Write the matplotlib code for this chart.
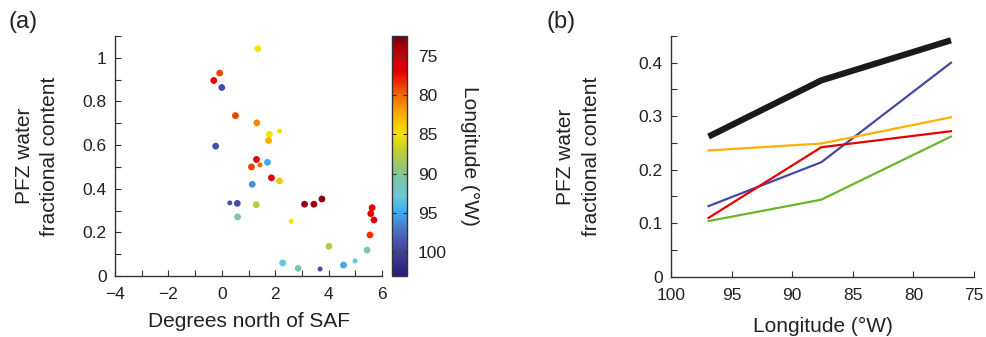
import matplotlib
matplotlib.use("Agg")
import matplotlib.pyplot as plt
import numpy as np
from matplotlib.colors import LinearSegmentedColormap, Normalize
from matplotlib.ticker import MultipleLocator

plt.rcParams['font.family'] = ['Liberation Sans', 'DejaVu Sans']

# ---- Panel (a) data ----
deg_north = [1.35, -0.08, -0.30, 0.00, 0.51, 1.31, 1.78, 2.16, 1.75, -0.23,
             1.30, 1.71, 1.11, 1.43, 1.86, 2.16, 1.14, 0.30, 0.58, 1.29,
             0.59, 3.10, 3.45, 3.75, 2.60, 5.63, 5.58, 5.70, 5.55, 4.01,
             5.44, 4.99, 4.56, 2.28, 2.86, 3.68]
pfz_frac = [1.041, 0.930, 0.896, 0.864, 0.735, 0.702, 0.650, 0.664, 0.621, 0.595,
            0.534, 0.521, 0.500, 0.509, 0.450, 0.436, 0.420, 0.335, 0.333, 0.327,
            0.271, 0.329, 0.329, 0.353, 0.251, 0.313, 0.286, 0.257, 0.188, 0.136,
            0.119, 0.069, 0.050, 0.060, 0.035, 0.032]
longitude = [85, 79, 77, 99, 79, 81, 85, 85, 82.5, 99,
             77, 95, 79, 80, 77, 83.5, 96, 99, 99, 87.5,
             90.5, 73.5, 73.5, 73, 85, 77, 77, 77, 78.5, 87.5,
             90.5, 93, 95, 93, 90.5, 99]
small_marker = [0, 0, 0, 0, 0, 0, 0, 1, 0, 0,
                0, 0, 0, 1, 0, 0, 0, 1, 0, 0,
                0, 0, 0, 0, 1, 0, 0, 0, 0, 0,
                0, 1, 0, 0, 0, 1]

# ---- Panel (b) data ----
lon_bins = [96.9, 87.6, 76.9]
frac_all = [0.262, 0.367, 0.442]
frac_blue = [0.132, 0.214, 0.400]
frac_orange = [0.236, 0.249, 0.298]
frac_red = [0.110, 0.242, 0.272]
frac_green = [0.104, 0.144, 0.262]

# muted jet-like colormap (value increases: dark red -> dark navy)
cm_stops = [
    (0.000, (0.47, 0.00, 0.05)),
    (0.080, (0.78, 0.00, 0.05)),
    (0.150, (0.90, 0.00, 0.00)),
    (0.250, (0.94, 0.43, 0.00)),
    (0.320, (0.98, 0.67, 0.00)),
    (0.410, (0.96, 0.90, 0.00)),
    (0.480, (0.75, 0.80, 0.20)),
    (0.580, (0.50, 0.78, 0.60)),
    (0.670, (0.42, 0.78, 0.86)),
    (0.730, (0.25, 0.68, 0.94)),
    (0.790, (0.30, 0.50, 0.80)),
    (0.860, (0.28, 0.32, 0.66)),
    (1.000, (0.16, 0.12, 0.47)),
]
cmap = LinearSegmentedColormap.from_list("mutedjet", cm_stops)
norm = Normalize(vmin=72.5, vmax=103)

axis_col = '#333333'
txt_col = '#222222'
TICK_FS = 12.5
LABEL_FS = 15

fig = plt.figure(figsize=(9.86, 3.37), dpi=100)

def style_ax(ax):
    for s in ['top', 'right']:
        ax.spines[s].set_visible(False)
    for s in ['left', 'bottom']:
        ax.spines[s].set_color(axis_col)
        ax.spines[s].set_linewidth(1.0)
    ax.tick_params(which='both', direction='in', colors=axis_col, labelcolor=txt_col,
                   labelsize=TICK_FS, width=0.8, length=4)
    ax.tick_params(axis='x', which='major', pad=8)
    ax.tick_params(axis='y', which='major', pad=6)

# Panel (a)
axa = fig.add_axes([115/986, 1-276/337, 267/986, 240/337])
sizes = [13 if s else 24 for s in small_marker]
sc = axa.scatter(deg_north, pfz_frac, c=longitude, cmap=cmap, norm=norm,
                 s=sizes, edgecolors='none', zorder=3)
axa.set_xlim(-4, 6)
axa.set_ylim(0, 1.1)
axa.set_xticks([-4, -2, 0, 2, 4, 6])
axa.set_xticklabels(['\u22124', '\u22122', '0', '2', '4', '6'])
axa.xaxis.set_minor_locator(MultipleLocator(1))
axa.set_yticks([0, 0.2, 0.4, 0.6, 0.8, 1.0])
axa.set_yticklabels(['0', '0.2', '0.4', '0.6', '0.8', '1'])
axa.yaxis.set_minor_locator(MultipleLocator(0.1))
style_ax(axa)
axa.set_xlabel('Degrees north of SAF', fontsize=LABEL_FS, color=txt_col)
axa.xaxis.set_label_coords(0.5, -0.19)
axa.xaxis.label.set_va('center')
axa.set_ylabel('PFZ water\nfractional content', fontsize=LABEL_FS, color=txt_col,
               linespacing=1.45)
axa.yaxis.set_label_coords(-0.292, 0.5)
axa.yaxis.label.set_va('center')

# Colorbar
cax = fig.add_axes([392/986, 1-276/337, 15/986, 240/337])
cb = fig.colorbar(sc, cax=cax)
cax.invert_yaxis()
cb.set_ticks([75, 80, 85, 90, 95, 100])
cb.outline.set_edgecolor(axis_col)
cb.outline.set_linewidth(1.0)
cax.tick_params(direction='in', length=3, width=0.8, colors=axis_col,
                labelcolor=txt_col, labelsize=TICK_FS, right=True, left=True, pad=8)
cb.set_label('Longitude (\u00b0W)', rotation=-90, fontsize=LABEL_FS, color=txt_col)
cax.yaxis.set_label_coords((470-392)/15, 0.5)
cax.yaxis.label.set_va('center')

# Panel (b)
axb = fig.add_axes([671/986, 1-276.7/337, 303/986, 240.7/337])
axb.plot(lon_bins, frac_all, color='#1a1a1a', lw=4.5, solid_capstyle='butt', zorder=5)
axb.plot(lon_bins, frac_blue, color='#4549a0', lw=1.6)
axb.plot(lon_bins, frac_orange, color='#ffb000', lw=1.6)
axb.plot(lon_bins, frac_red, color='#e80000', lw=1.6)
axb.plot(lon_bins, frac_green, color='#6cb42a', lw=1.6)
axb.set_xlim(100, 75)
axb.set_ylim(0, 0.45)
axb.set_xticks([100, 95, 90, 85, 80, 75])
axb.set_yticks([0, 0.1, 0.2, 0.3, 0.4])
axb.set_yticklabels(['0', '0.1', '0.2', '0.3', '0.4'])
axb.yaxis.set_minor_locator(MultipleLocator(0.05))
style_ax(axb)
axb.set_xlabel('Longitude (\u00b0W)', fontsize=LABEL_FS, color=txt_col)
axb.xaxis.set_label_coords(0.5, -0.205)
axb.xaxis.label.set_va('center')
axb.set_ylabel('PFZ water\nfractional content', fontsize=LABEL_FS, color=txt_col,
               linespacing=1.45)
axb.yaxis.set_label_coords(-0.305, 0.5)
axb.yaxis.label.set_va('center')

fig.text(8/986, 1-22/337, '(a)', fontsize=17, color=txt_col, va='center', ha='left')
fig.text(547/986, 1-22/337, '(b)', fontsize=17, color=txt_col, va='center', ha='left')

fig.savefig('out.png', dpi=100)
